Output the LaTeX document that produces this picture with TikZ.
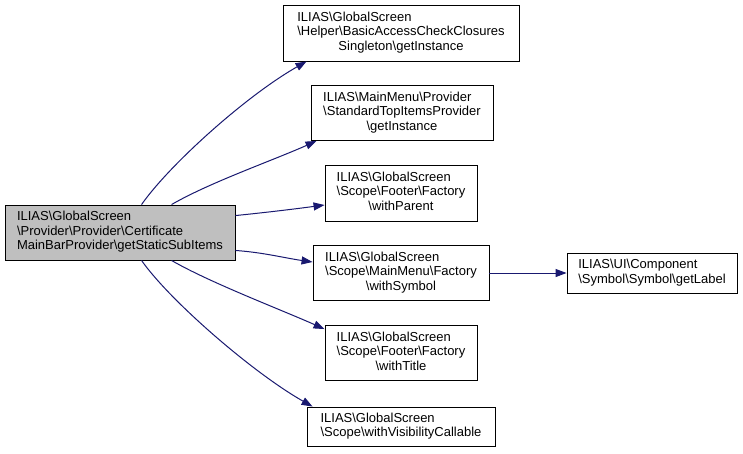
\documentclass[tikz,border=0pt]{standalone}
\usepackage{fontspec}
\setmainfont{Liberation Sans}
\usetikzlibrary{arrows.meta,calc}
\definecolor{edgeblue}{HTML}{191970}
\definecolor{mainfill}{HTML}{BFBFBF}
\newcommand{\BS}{\textbackslash}
\newcommand{\Lft}[1]{\multicolumn{1}{@{}l@{}}{#1}}
\begin{document}
\begin{tikzpicture}[x=1pt,y=-1pt,
  box/.style={draw=black, fill=white, line width=0.9pt, inner sep=0pt,
    font=\fontsize{13}{14.5}\selectfont, align=center},
  mainbox/.style={box, fill=mainfill},
  edge/.style={draw=edgeblue, line width=1pt, -{Triangle[length=11pt,width=8pt]}}]
\useasboundingbox (0,0) rectangle (743,453);
\fill[white] (0,0) rectangle (743,453);
\renewcommand{\arraystretch}{1}
\node[mainbox, minimum width=230pt, minimum height=55pt] (main) at (120,232.5)
 {\begin{tabular}{@{}l@{}}ILIAS\BS GlobalScreen\\\BS Provider\BS Provider\BS Certificate\\MainBarProvider\BS getStaticSubItems\end{tabular}};
\node[box, minimum width=236pt, minimum height=56pt] (b1) at (401,33)
 {\begin{tabular}{@{}c@{}}\Lft{ILIAS\BS GlobalScreen}\\\Lft{\BS Helper\BS BasicAccessCheckClosures}\\Singleton\BS getInstance\end{tabular}};
\node[box, minimum width=182pt, minimum height=55pt] (b2) at (402,113)
 {\begin{tabular}{@{}c@{}}\Lft{ILIAS\BS MainMenu\BS Provider}\\\Lft{\BS StandardTopItemsProvider}\\\BS getInstance\end{tabular}};
\node[box, minimum width=152pt, minimum height=56pt] (b3) at (401,193)
 {\begin{tabular}{@{}c@{}}\Lft{ILIAS\BS GlobalScreen}\\\Lft{\BS Scope\BS Footer\BS Factory}\\\BS withParent\end{tabular}};
\node[box, minimum width=176pt, minimum height=55pt] (b4) at (401,273)
 {\begin{tabular}{@{}c@{}}\Lft{ILIAS\BS GlobalScreen}\\\Lft{\BS Scope\BS MainMenu\BS Factory}\\\BS withSymbol\end{tabular}};
\node[box, minimum width=170pt, minimum height=40pt] (b7) at (652,273)
 {\begin{tabular}{@{}l@{}}ILIAS\BS UI\BS Component\\\BS Symbol\BS Symbol\BS getLabel\end{tabular}};
\node[box, minimum width=152pt, minimum height=55pt] (b5) at (401,353)
 {\begin{tabular}{@{}c@{}}\Lft{ILIAS\BS GlobalScreen}\\\Lft{\BS Scope\BS Footer\BS Factory}\\\BS withTitle\end{tabular}};
\node[box, minimum width=188pt, minimum height=39pt] (b6) at (401,426.5)
 {\begin{tabular}{@{}l@{}}ILIAS\BS GlobalScreen\\\BS Scope\BS withVisibilityCallable\end{tabular}};
\draw[edge] ($(main.north west)+(137,0)$) .. controls +(28,-40) and +(-60,34) .. ($(b1.south west)+(24,0)$);
\draw[edge] ($(main.north west)+(167,0)$) .. controls +(38,-22) and +(-45,20) .. ($(b2.south west)+(6,0)$);
\draw[edge] ($(main.north east)+(0,11)$) .. controls +(30,-3) and +(-30,4) .. ($(b3.west)+(0,12)$);
\draw[edge] ($(main.south east)+(0,-10)$) .. controls +(28,2) and +(-28,-4) .. ($(b4.west)+(0,-11)$);
\draw[edge] (b4.east) -- (b7.west);
\draw[edge] ($(main.south west)+(167,0)$) .. controls +(38,22) and +(-45,-20) .. ($(b5.north west)+(0,4)$);
\draw[edge] ($(main.south west)+(137,0)$) .. controls +(28,40) and +(-60,-34) .. ($(b6.north west)+(6,0)$);
\end{tikzpicture}
\end{document}
